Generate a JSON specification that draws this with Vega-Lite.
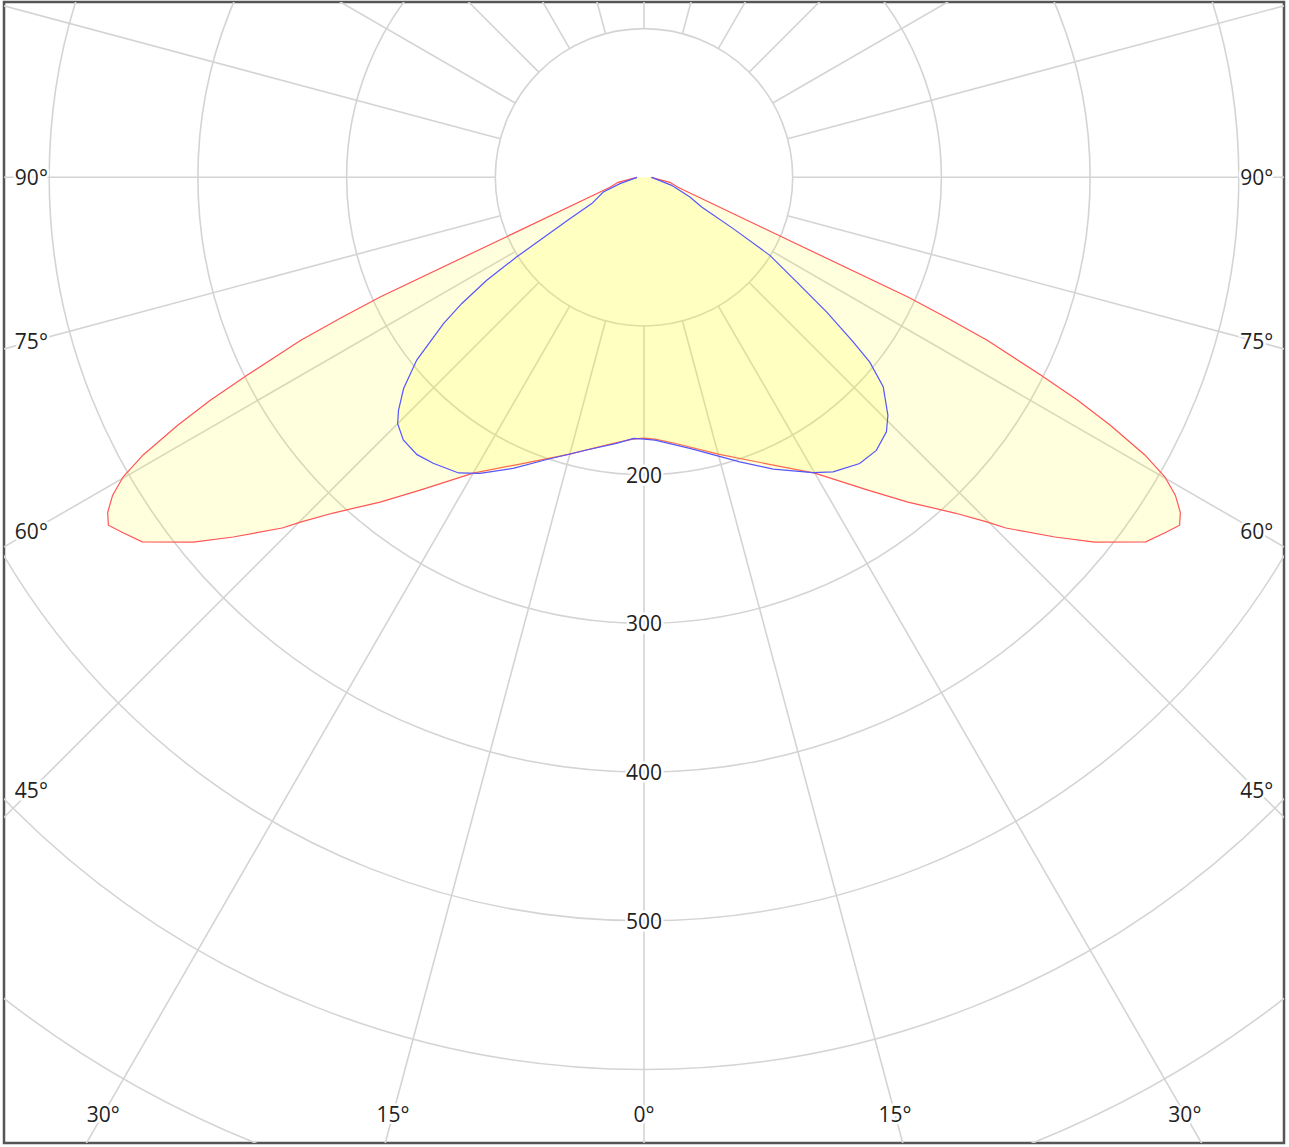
{
  "$schema": "https://vega.github.io/schema/vega-lite/v6.json",
  "width": 1280,
  "height": 1141,
  "padding": {"left": 4, "top": 2, "right": 5, "bottom": 4},
  "background": "white",
  "config": {"view": {"stroke": "#555555", "strokeWidth": 2.5}},
  "datasets": {
    "circles": [{"r": 100}, {"r": 200}, {"r": 300}, {"r": 400}, {"r": 500}, {"r": 600}, {"r": 700}, {"r": 800}],
    "rays": [{"a": 0}, {"a": 15}, {"a": 30}, {"a": 45}, {"a": 60}, {"a": 75}, {"a": 90}, {"a": 105}, {"a": 120}, {"a": 135}, {"a": 150}, {"a": 165}, {"a": 180}, {"a": 195}, {"a": 210}, {"a": 225}, {"a": 240}, {"a": 255}, {"a": 270}, {"a": 285}, {"a": 300}, {"a": 315}, {"a": 330}, {"a": 345}],
    "angleLabels": [{"a": -90}, {"a": -75}, {"a": -60}, {"a": -45}, {"a": -30}, {"a": -15}, {"a": 0}, {"a": 15}, {"a": 30}, {"a": 45}, {"a": 60}, {"a": 75}, {"a": 90}],
    "valueLabels": [{"v": 200}, {"v": 300}, {"v": 400}, {"v": 500}],
    "curves": [
      {"c": "C0-C180", "a": -90, "I": 4.7},
      {"c": "C0-C180", "a": -79.1, "I": 17.8},
      {"c": "C0-C180", "a": -73.6, "I": 23.8},
      {"c": "C0-C180", "a": -65.6, "I": 194.9},
      {"c": "C0-C180", "a": -65.1, "I": 225.2},
      {"c": "C0-C180", "a": -64.6, "I": 255.8},
      {"c": "C0-C180", "a": -63.5, "I": 298.1},
      {"c": "C0-C180", "a": -62.8, "I": 327.9},
      {"c": "C0-C180", "a": -62.0, "I": 355.4},
      {"c": "C0-C180", "a": -61.0, "I": 385.1},
      {"c": "C0-C180", "a": -60.1, "I": 404.0},
      {"c": "C0-C180", "a": -59.1, "I": 416.5},
      {"c": "C0-C180", "a": -58.0, "I": 425.3},
      {"c": "C0-C180", "a": -57.0, "I": 429.5},
      {"c": "C0-C180", "a": -55.7, "I": 424.1},
      {"c": "C0-C180", "a": -54.0, "I": 417.1},
      {"c": "C0-C180", "a": -51.0, "I": 389.9},
      {"c": "C0-C180", "a": -48.8, "I": 367.2},
      {"c": "C0-C180", "a": -45.9, "I": 338.9},
      {"c": "C0-C180", "a": -44.9, "I": 327.4},
      {"c": "C0-C180", "a": -42.8, "I": 307.7},
      {"c": "C0-C180", "a": -39.1, "I": 281.4},
      {"c": "C0-C180", "a": -35.6, "I": 258.7},
      {"c": "C0-C180", "a": -30.0, "I": 229.7},
      {"c": "C0-C180", "a": -23.4, "I": 210.1},
      {"c": "C0-C180", "a": -15.0, "I": 192.7},
      {"c": "C0-C180", "a": -6.6, "I": 180.0},
      {"c": "C0-C180", "a": -2.4, "I": 176.2},
      {"c": "C0-C180", "a": 0, "I": 175.4},
      {"c": "C0-C180", "a": 2.4, "I": 176.2},
      {"c": "C0-C180", "a": 6.6, "I": 180.0},
      {"c": "C0-C180", "a": 15.0, "I": 192.7},
      {"c": "C0-C180", "a": 23.4, "I": 210.1},
      {"c": "C0-C180", "a": 30.0, "I": 229.7},
      {"c": "C0-C180", "a": 35.6, "I": 258.7},
      {"c": "C0-C180", "a": 39.1, "I": 281.4},
      {"c": "C0-C180", "a": 42.8, "I": 307.7},
      {"c": "C0-C180", "a": 44.9, "I": 327.4},
      {"c": "C0-C180", "a": 45.9, "I": 338.9},
      {"c": "C0-C180", "a": 48.8, "I": 367.2},
      {"c": "C0-C180", "a": 51.0, "I": 389.9},
      {"c": "C0-C180", "a": 54.0, "I": 417.1},
      {"c": "C0-C180", "a": 55.7, "I": 424.1},
      {"c": "C0-C180", "a": 57.0, "I": 429.5},
      {"c": "C0-C180", "a": 58.0, "I": 425.3},
      {"c": "C0-C180", "a": 59.1, "I": 416.5},
      {"c": "C0-C180", "a": 60.1, "I": 404.0},
      {"c": "C0-C180", "a": 61.0, "I": 385.1},
      {"c": "C0-C180", "a": 62.0, "I": 355.4},
      {"c": "C0-C180", "a": 62.8, "I": 327.9},
      {"c": "C0-C180", "a": 63.5, "I": 298.1},
      {"c": "C0-C180", "a": 64.6, "I": 255.8},
      {"c": "C0-C180", "a": 65.1, "I": 225.2},
      {"c": "C0-C180", "a": 65.6, "I": 194.9},
      {"c": "C0-C180", "a": 73.6, "I": 23.8},
      {"c": "C0-C180", "a": 79.1, "I": 17.8},
      {"c": "C0-C180", "a": 90, "I": 4.7},
      {"c": "C90-C270", "a": -90, "I": 4.7},
      {"c": "C90-C270", "a": -75.3, "I": 16.7},
      {"c": "C90-C270", "a": -70.1, "I": 29.1},
      {"c": "C90-C270", "a": -63.3, "I": 39.3},
      {"c": "C90-C270", "a": -60.8, "I": 56.9},
      {"c": "C90-C270", "a": -59.2, "I": 76.1},
      {"c": "C90-C270", "a": -58.0, "I": 100.9},
      {"c": "C90-C270", "a": -56.8, "I": 126.4},
      {"c": "C90-C270", "a": -55.3, "I": 149.0},
      {"c": "C90-C270", "a": -53.9, "I": 166.9},
      {"c": "C90-C270", "a": -51.2, "I": 196.1},
      {"c": "C90-C270", "a": -48.7, "I": 215.2},
      {"c": "C90-C270", "a": -46.5, "I": 227.6},
      {"c": "C90-C270", "a": -45.0, "I": 234.3},
      {"c": "C90-C270", "a": -42.5, "I": 239.6},
      {"c": "C90-C270", "a": -39.3, "I": 241.0},
      {"c": "C90-C270", "a": -36.4, "I": 238.9},
      {"c": "C90-C270", "a": -32.1, "I": 234.7},
      {"c": "C90-C270", "a": -29.0, "I": 227.6},
      {"c": "C90-C270", "a": -24.2, "I": 214.6},
      {"c": "C90-C270", "a": -19.0, "I": 200.7},
      {"c": "C90-C270", "a": -11.9, "I": 187.4},
      {"c": "C90-C270", "a": -5.9, "I": 179.9},
      {"c": "C90-C270", "a": -2.3, "I": 175.7},
      {"c": "C90-C270", "a": 0, "I": 176.1},
      {"c": "C90-C270", "a": 2.4, "I": 176.9},
      {"c": "C90-C270", "a": 9.6, "I": 184.9},
      {"c": "C90-C270", "a": 18.6, "I": 201.9},
      {"c": "C90-C270", "a": 23.9, "I": 214.6},
      {"c": "C90-C270", "a": 29.8, "I": 228.8},
      {"c": "C90-C270", "a": 32.7, "I": 235.4},
      {"c": "C90-C270", "a": 37.0, "I": 241.0},
      {"c": "C90-C270", "a": 40.4, "I": 241.1},
      {"c": "C90-C270", "a": 43.6, "I": 236.4},
      {"c": "C90-C270", "a": 45.7, "I": 229.2},
      {"c": "C90-C270", "a": 48.8, "I": 213.8},
      {"c": "C90-C270", "a": 50.7, "I": 196.2},
      {"c": "C90-C270", "a": 51.8, "I": 179.0},
      {"c": "C90-C270", "a": 53.6, "I": 152.5},
      {"c": "C90-C270", "a": 55.6, "I": 124.4},
      {"c": "C90-C270", "a": 58.2, "I": 99.6},
      {"c": "C90-C270", "a": 60.1, "I": 69.2},
      {"c": "C90-C270", "a": 62.8, "I": 43.6},
      {"c": "C90-C270", "a": 66.8, "I": 33.6},
      {"c": "C90-C270", "a": 73.9, "I": 19.4},
      {"c": "C90-C270", "a": 90, "I": 5.2}
    ]
  },
  "encoding": {
    "x": {"field": "x", "type": "quantitative", "axis": null, "scale": {"domain": [-430.4, 430.4], "nice": false, "zero": false}},
    "y": {"field": "y", "type": "quantitative", "axis": null, "scale": {"domain": [-649.4, 117.9], "nice": false, "zero": false}}
  },
  "layer": [
    {
      "data": {"name": "circles"},
      "transform": [{"calculate": "0", "as": "x"}, {"calculate": "0", "as": "y"}],
      "mark": {"type": "point", "shape": "circle", "filled": false, "color": "#d4d4d4", "strokeWidth": 1.6, "opacity": 1, "clip": true},
      "encoding": {
        "size": {"field": "r", "type": "quantitative", "legend": null, "scale": {"type": "pow", "exponent": 2, "domain": [0, 100], "range": [0, 88447], "nice": false}}
      }
    },
    {
      "data": {"name": "rays"},
      "transform": [
        {"calculate": "100 * sin(datum.a * PI / 180)", "as": "x"},
        {"calculate": "-100 * cos(datum.a * PI / 180)", "as": "y"},
        {"calculate": "1400 * sin(datum.a * PI / 180)", "as": "x2"},
        {"calculate": "-1400 * cos(datum.a * PI / 180)", "as": "y2"}
      ],
      "mark": {"type": "rule", "color": "#d4d4d4", "strokeWidth": 1.6, "clip": true},
      "encoding": {"x2": {"field": "x2"}, "y2": {"field": "y2"}}
    },
    {
      "data": {"name": "curves"},
      "transform": [
        {"filter": "datum.c == 'C0-C180'"},
        {"calculate": "datum.I * sin(datum.a * PI / 180)", "as": "x"},
        {"calculate": "-datum.I * cos(datum.a * PI / 180)", "as": "y"}
      ],
      "mark": {"type": "line", "fill": "#ffff00", "fillOpacity": 0.13, "stroke": "#ff5555", "strokeWidth": 1.2, "clip": true},
      "encoding": {"order": {"field": "a", "type": "quantitative"}}
    },
    {
      "data": {"name": "curves"},
      "transform": [
        {"filter": "datum.c == 'C90-C270'"},
        {"calculate": "datum.I * sin(datum.a * PI / 180)", "as": "x"},
        {"calculate": "-datum.I * cos(datum.a * PI / 180)", "as": "y"}
      ],
      "mark": {"type": "line", "fill": "#ffff00", "fillOpacity": 0.13, "stroke": "#5555ff", "strokeWidth": 1.2, "clip": true},
      "encoding": {"order": {"field": "a", "type": "quantitative"}}
    },
    {
      "data": {"name": "angleLabels"},
      "transform": [
        {"calculate": "datum.a * PI / 180", "as": "rad"},
        {"calculate": "min(abs(sin(datum.rad)) > 0.0001 ? 412 / abs(sin(datum.rad)) : 1e9, cos(datum.rad) > 0.0001 ? 630 / cos(datum.rad) : 1e9)", "as": "t"},
        {"calculate": "datum.t * sin(datum.rad)", "as": "x"},
        {"calculate": "-datum.t * cos(datum.rad)", "as": "y"},
        {"calculate": "abs(datum.a) + '°'", "as": "label"}
      ],
      "layer": [
        {
          "mark": {"type": "text", "font": "Open Sans", "fontSize": 21, "align": "center", "baseline": "middle", "dy": 2, "fill": "white", "stroke": "white", "strokeWidth": 5},
          "encoding": {"text": {"field": "label"}}
        },
        {
          "mark": {"type": "text", "font": "Open Sans", "fontSize": 21, "align": "center", "baseline": "middle", "dy": 2, "color": "#222222"},
          "encoding": {"text": {"field": "label"}}
        }
      ]
    },
    {
      "data": {"name": "valueLabels"},
      "transform": [
        {"calculate": "0", "as": "x"},
        {"calculate": "-datum.v", "as": "y"},
        {"calculate": "'' + datum.v", "as": "label"}
      ],
      "layer": [
        {
          "mark": {"type": "text", "font": "Open Sans", "fontSize": 21, "align": "center", "baseline": "middle", "dy": 2, "fill": "white", "stroke": "white", "strokeWidth": 5},
          "encoding": {"text": {"field": "label"}}
        },
        {
          "mark": {"type": "text", "font": "Open Sans", "fontSize": 21, "align": "center", "baseline": "middle", "dy": 2, "color": "#222222"},
          "encoding": {"text": {"field": "label"}}
        }
      ]
    }
  ]
}
